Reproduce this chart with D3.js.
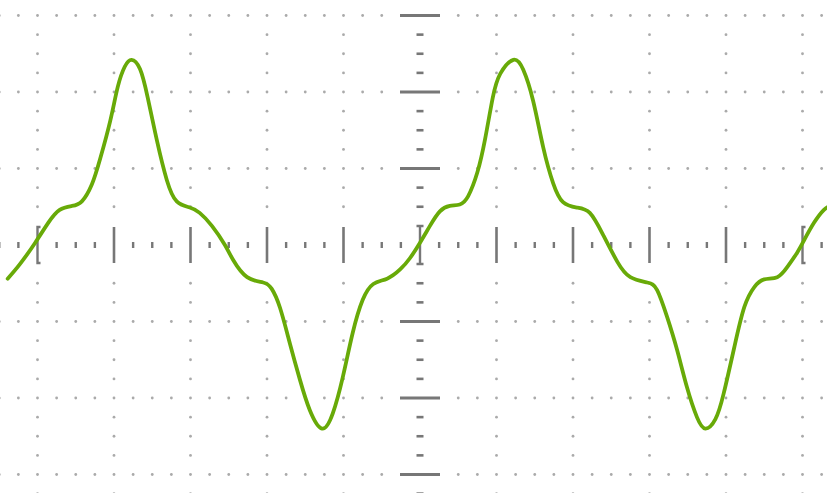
<!DOCTYPE html>
<html>
<head>
<meta charset="utf-8">
<script src="https://cdn.jsdelivr.net/npm/d3@7"></script>
<style>
  html, body { margin: 0; padding: 0; background: #fff; }
  svg { display: block; }
</style>
</head>
<body>
<div id="scope"></div>
<script>
// trace, in divisions (time, volts)
var traceTime = [-5.39, -5.23, -5.03, -4.86, -4.71, -4.55, -4.42, -4.29, -4.18, -4.05,
	-3.95, -3.86, -3.77, -3.66, -3.56, -3.44, -3.31, -3.18, -3.01, -2.88,
	-2.72, -2.55, -2.44, -2.26, -2.05, -1.94, -1.83, -1.70, -1.57, -1.44,
	-1.28, -1.14, -1.01, -0.88, -0.75, -0.61, -0.43, -0.26, -0.13, 0.00,
	0.13, 0.26, 0.39, 0.52, 0.63, 0.75, 0.85, 0.95, 1.05, 1.22,
	1.35, 1.48, 1.61, 1.74, 1.87, 2.05, 2.22, 2.39, 2.58, 2.75,
	2.97, 3.10, 3.23, 3.36, 3.49, 3.62, 3.73, 3.86, 3.97, 4.11,
	4.24, 4.37, 4.50, 4.67, 4.80, 4.93, 5.02, 5.15, 5.28, 5.36];
var traceVolts = [-0.44, -0.25, 0.03, 0.29, 0.46, 0.51, 0.57, 0.79, 1.13, 1.62,
	2.07, 2.33, 2.42, 2.30, 1.93, 1.37, 0.85, 0.57, 0.49, 0.42,
	0.25, 0.00, -0.20, -0.42, -0.49, -0.57, -0.82, -1.29, -1.76, -2.16,
	-2.40, -2.20, -1.73, -1.15, -0.72, -0.51, -0.44, -0.32, -0.17, 0.03,
	0.25, 0.44, 0.51, 0.53, 0.64, 0.95, 1.38, 1.92, 2.24, 2.42,
	2.29, 1.88, 1.28, 0.81, 0.56, 0.49, 0.42, 0.14, -0.22, -0.42,
	-0.49, -0.59, -0.94, -1.37, -1.86, -2.25, -2.40, -2.28, -1.94, -1.33,
	-0.81, -0.55, -0.45, -0.42, -0.29, -0.10, 0.06, 0.29, 0.46, 0.51];

// graticule
var timeDivs = [-5, -4, -3, -2, -1, 0, 1, 2, 3, 4, 5];
var voltDivs = [-3, -2, -1, 0, 1, 2, 3];
var markerDivs = [-5, 5];

var width = 827, height = 493;

var x = d3.scaleLinear().domain([-5, 5]).range([37.5, 802.5]);
var y = d3.scaleLinear().domain([-3, 3]).range([474.5, 15.5]);

var gridCol = '#aaaaaa', tickCol = '#777777';

var svg = d3.select('#scope').append('svg')
	.attr('width', width)
	.attr('height', height);

var sub = d3.range(-22, 23).map(function(i) { return i / 4; });   // quarter divisions
var tVis = sub.filter(function(t) { return x(t) > -2 && x(t) < width + 2; });
var vVis = sub.filter(function(v) { return y(v) > -2 && y(v) < height + 3; });

// dotted rows
var dots = svg.append('g').attr('class', 'dots').attr('fill', gridCol);
voltDivs.filter(function(v) { return v !== 0; }).forEach(function(v) {
	dots.selectAll(null)
		.data(tVis.filter(function(t) { return Math.abs(t) > 0.3; }))
		.enter().append('circle')
			.attr('cx', function(t) { return x(t); })
			.attr('cy', y(v))
			.attr('r', 1.4);
});
// dotted columns
timeDivs.filter(function(t) { return t !== 0; }).forEach(function(t) {
	dots.selectAll(null)
		.data(vVis.filter(function(v) { return v % 1 !== 0 && Math.abs(v) > 0.3; }))
		.enter().append('circle')
			.attr('cx', x(t))
			.attr('cy', function(v) { return y(v); })
			.attr('r', 1.4);
});

var axes = svg.append('g').attr('class', 'axes')
	.attr('stroke', tickCol).attr('fill', 'none');

// horizontal centre axis: minor + major ticks
axes.selectAll('line.hminor')
	.data(tVis.filter(function(t) { return t % 1 !== 0; }))
	.enter().append('line')
		.attr('class', 'hminor')
		.attr('x1', function(t) { return x(t); })
		.attr('x2', function(t) { return x(t); })
		.attr('y1', y(0) - 3).attr('y2', y(0) + 3)
		.attr('stroke-width', 2.4);
axes.selectAll('line.hmajor')
	.data(timeDivs.filter(function(t) { return t !== 0 && markerDivs.indexOf(t) < 0; }))
	.enter().append('line')
		.attr('class', 'hmajor')
		.attr('x1', function(t) { return x(t); })
		.attr('x2', function(t) { return x(t); })
		.attr('y1', y(0) - 18).attr('y2', y(0) + 18)
		.attr('stroke-width', 2.6);

// vertical centre axis: minor + major ticks
axes.selectAll('line.vminor')
	.data(vVis.filter(function(v) { return v % 1 !== 0 && Math.abs(v) > 0.3; }))
	.enter().append('line')
		.attr('class', 'vminor')
		.attr('x1', x(0) - 3.5).attr('x2', x(0) + 3.5)
		.attr('y1', function(v) { return y(v); })
		.attr('y2', function(v) { return y(v); })
		.attr('stroke-width', 2.6);
axes.selectAll('line.vmajor')
	.data(voltDivs.filter(function(v) { return v !== 0; }))
	.enter().append('line')
		.attr('class', 'vmajor')
		.attr('x1', x(0) - 20).attr('x2', x(0) + 20)
		.attr('y1', function(v) { return y(v); })
		.attr('y2', function(v) { return y(v); })
		.attr('stroke-width', 3);

// origin I-beam
var c0 = x(0), r0 = y(0);
axes.append('path')
	.attr('d', 'M' + c0 + ',' + (r0 - 19) + 'V' + (r0 + 19) +
		'M' + (c0 - 3.5) + ',' + (r0 - 19) + 'H' + (c0 + 3.5) +
		'M' + (c0 - 3.5) + ',' + (r0 + 19) + 'H' + (c0 + 3.5))
	.attr('stroke-width', 2.4);

// period brackets
axes.selectAll('path.marker')
	.data(markerDivs)
	.enter().append('path')
		.attr('class', 'marker')
		.attr('d', function(t) {
			var cx = x(t);
			return 'M' + (cx + 3) + ',' + (r0 - 18) + 'H' + cx + 'V' + (r0 + 18) + 'H' + (cx + 3);
		})
		.attr('stroke-width', 2.4);

// the trace
var trace = traceTime.map(function(t, i) { return [t, traceVolts[i]]; });
var line = d3.line()
	.x(function(d) { return x(d[0]); })
	.y(function(d) { return y(d[1]); })
	.curve(d3.curveNatural);

svg.append('path')
	.datum(trace)
	.attr('class', 'trace')
	.attr('fill', 'none')
	.attr('stroke', '#68aa08')
	.attr('stroke-width', 3.8)
	.attr('stroke-linejoin', 'round')
	.attr('stroke-linecap', 'round')
	.attr('d', line);
</script>
</body>
</html>
